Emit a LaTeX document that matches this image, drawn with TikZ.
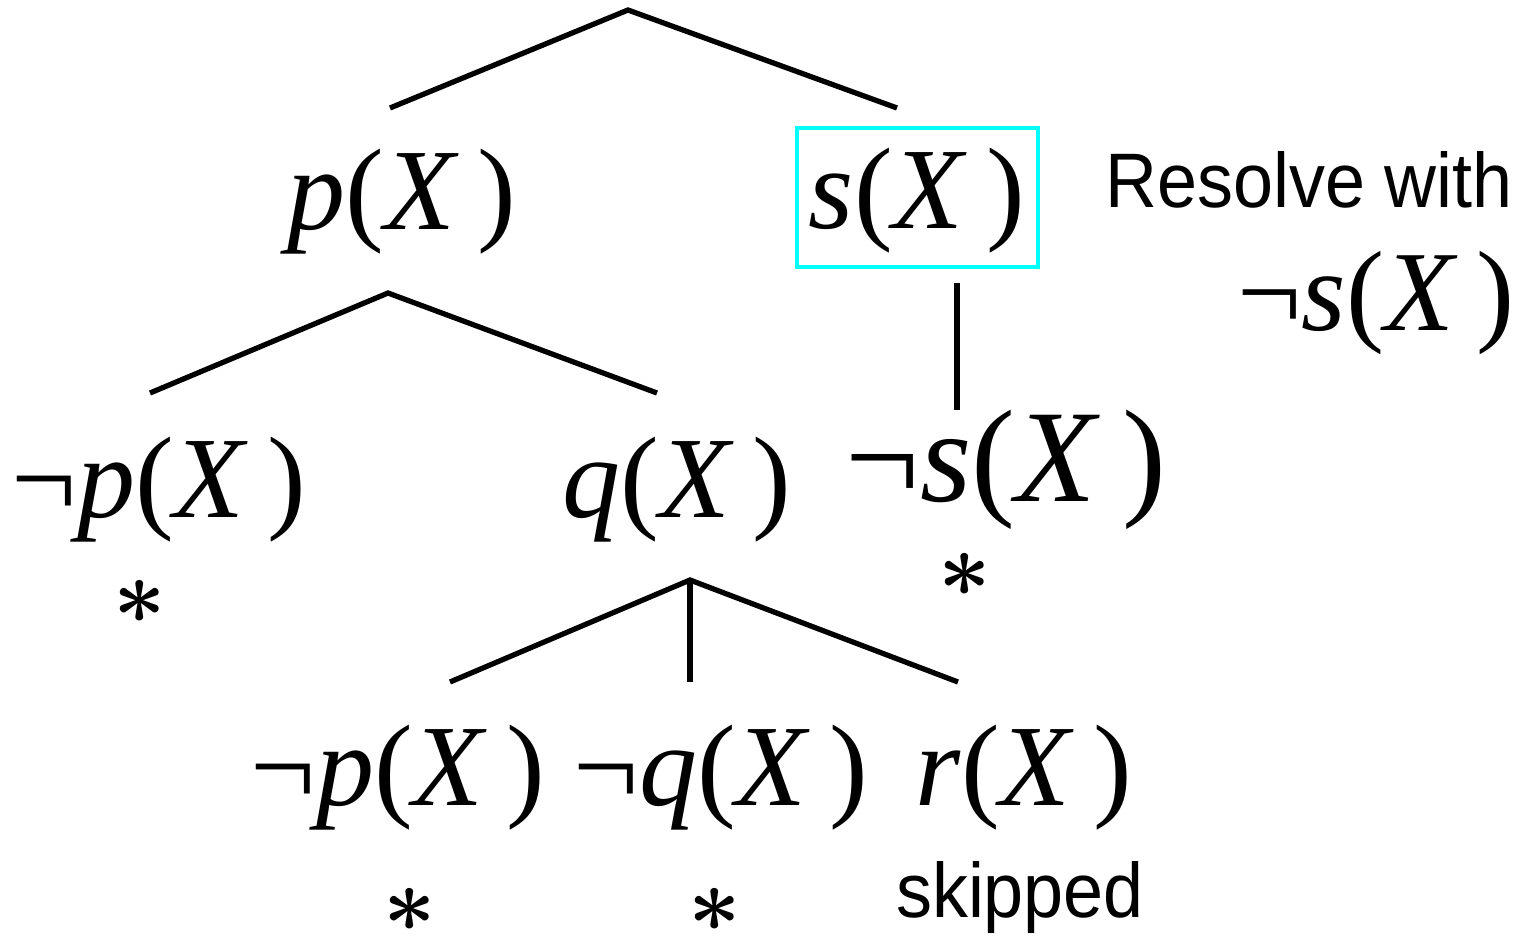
\documentclass[tikz,border=0pt]{standalone}
\usepackage{fontspec}
\setmainfont{Liberation Serif}
\newfontfamily\sansf{Liberation Sans}
\newcommand{\mi}[1]{\textit{#1}}
\newcommand{\tm}[1]{\mi{#1}(\mi{X}\,)}
\newcommand{\bigast}{\scalebox{5.2}{\boldmath$\ast$}}
\begin{document}
\begin{tikzpicture}[x=0.02cm,y=-0.02cm,
  edge/.style={line width=3pt},
  term/.style={inner sep=0pt, anchor=base, font=\fontsize{66}{66}\selectfont},
  bigterm/.style={term, font=\fontsize{75}{75}\selectfont},
  star/.style={inner sep=0pt},
  lbl/.style={inner sep=0pt, xscale=0.93, font=\sansf\fontsize{44}{44}\selectfont},
  hl/.style={draw={rgb,255:red,0;green,255;blue,255}, line width=2.4pt}]
\useasboundingbox (0,0) rectangle (1536,941);
% top level
\coordinate (r) at (628,10);
\coordinate (r1) at (390,108);
\coordinate (r2) at (897,108);
\draw[edge] (r1) -- (r) -- (r2);
\node[term] (pX) at (402,229) {\tm{p}};
\node[term] (sX) at (917,228) {\tm{s}};
\node[hl, minimum width=241*0.02cm, minimum height=139*0.02cm] (box) at (917.5,197.5) {};
\node[lbl, anchor=base west] (res) at (1105,207) {Resolve with};
\node[term, font=\fontsize{65}{65}\selectfont, anchor=base east] (nsR) at (1515,330) {¬\tm{s}};
% second level under p(X)
\coordinate (p) at (388,293);
\coordinate (p1) at (150,393);
\coordinate (p2) at (657,393);
\draw[edge] (p1) -- (p) -- (p2);
\coordinate (s) at (957,283);
\coordinate (s1) at (957,410);
\draw[edge] (s) -- (s1);
\node[term] (npX) at (159,517) {¬\tm{p}};
\node[star] (st1) at (140,602) {\bigast};
\node[term] (qX) at (677,517) {\tm{q}};
\node[bigterm] (nsX) at (1006,501) {¬\tm{s}};
\node[star] (st2) at (965,575) {\bigast};
% third level under q(X)
\coordinate (q) at (690,580);
\coordinate (q1) at (450,682);
\coordinate (q2) at (690,682);
\coordinate (q3) at (958,682);
\draw[edge] (q1) -- (q) -- (q3);
\draw[edge] (q) -- (q2);
\node[term] (np2) at (398,805) {¬\tm{p}};
\node[term] (nq) at (721,805) {¬\tm{q}};
\node[term] (rX) at (1024,805) {\tm{r}};
\node[star] (st3) at (410,910) {\bigast};
\node[star] (st4) at (715,910) {\bigast};
\node[lbl, anchor=base] (skip) at (1020,917) {skipped};
\end{tikzpicture}
\end{document}
